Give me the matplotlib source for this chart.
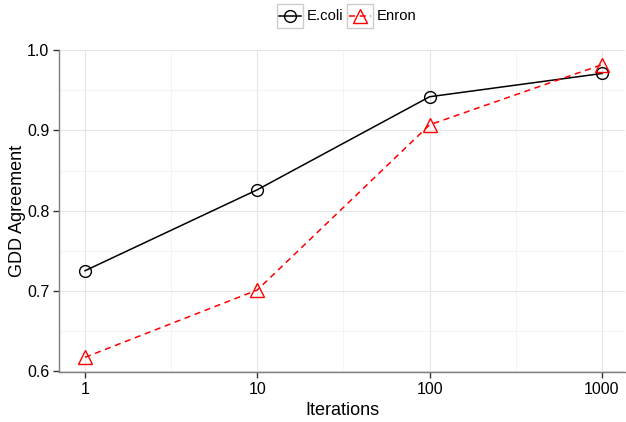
import matplotlib
matplotlib.use("Agg")
import matplotlib.pyplot as plt
import numpy as np
from matplotlib.lines import Line2D
from matplotlib.patches import Rectangle

iterations = [1, 10, 100, 1000]
ecoli = [0.725, 0.826, 0.942, 0.971]
enron = [0.617, 0.701, 0.907, 0.982]
series_names = ["E.coli", "Enron"]
yticks = [0.6, 0.7, 0.8, 0.9, 1.0]
xticks = [1, 10, 100, 1000]
xticklabels = ["1", "10", "100", "1000"]

plt.rcParams['font.family'] = ['Liberation Sans', 'DejaVu Sans']

fig = plt.figure(figsize=(6.26, 4.22), dpi=100)
ax = fig.add_axes([59/626, 50/422, 566/626, 322/422])

ax.set_xscale('log')
ax.set_xlim(10**-0.151, 10**3.134)
ax.set_ylim(0.5987, 1.0003)

# grid
for v in [10**0.5, 10**1.5, 10**2.5]:
    ax.axvline(v, color='#f2f2f2', lw=0.6, zorder=0)
for v in [0.65, 0.75, 0.85, 0.95]:
    ax.axhline(v, color='#f2f2f2', lw=0.6, zorder=0)
for v in xticks:
    ax.axvline(v, color='#e6e6e6', lw=0.8, zorder=0)
for v in yticks:
    ax.axhline(v, color='#e6e6e6', lw=0.8, zorder=0)

ax.plot(iterations, ecoli, color='black', lw=1.1, marker='o', ms=8.5,
        mfc='none', mec='black', mew=1.0, zorder=3)
ax.plot(iterations, enron, color='#ff0000', lw=1.1, ls=(0, (4, 3)), marker='^', ms=10,
        mfc='none', mec='#ff0000', mew=1.0, zorder=3)

ax.set_xticks(xticks)
ax.set_xticklabels(xticklabels)
ax.xaxis.set_minor_locator(matplotlib.ticker.NullLocator())
ax.set_yticks(yticks)
ax.set_yticklabels(["0.6", "0.7", "0.8", "0.9", "1.0"])

for s in ['top', 'right']:
    ax.spines[s].set_visible(False)
for s in ['left', 'bottom']:
    ax.spines[s].set_color('#7f7f7f')
    ax.spines[s].set_linewidth(1.0)
ax.tick_params(axis='both', colors='#333333', labelcolor='black', labelsize=11.5, length=4, width=1.0, pad=3)

ax.set_xlabel("Iterations", fontsize=13, labelpad=4)
ax.set_ylabel("GDD Agreement", fontsize=13, labelpad=1)

# legend drawn at top
W, H = 626, 422
def fx(x): return x / W
def fy(y): return 1 - y / H
keys = [(277, 303, 'black', 'o', '-', 8.5, series_names[0], 307),
        (347, 373, '#ff0000', '^', (0, (4, 3)), 10, series_names[1], 377)]
for x0, x1, col, mk, ls, ms, name, tx in keys:
    fig.add_artist(Rectangle((fx(x0), fy(28)), fx(x1 - x0), (24) / H, transform=fig.transFigure,
                             facecolor='white', edgecolor='#cccccc', lw=1.0))
    fig.add_artist(Line2D([fx(x0 + 2), fx(x1 - 2)], [fy(16), fy(16)], transform=fig.transFigure,
                          color=col, lw=1.1, ls=ls))
    fig.add_artist(Line2D([fx((x0 + x1) / 2)], [fy(16)], transform=fig.transFigure,
                          color=col, marker=mk, ms=ms, mfc='none', mec=col, mew=1.0))
    fig.text(fx(tx), fy(16), name, fontsize=10.7, va='center', ha='left')

fig.savefig("out.png", dpi=100)
